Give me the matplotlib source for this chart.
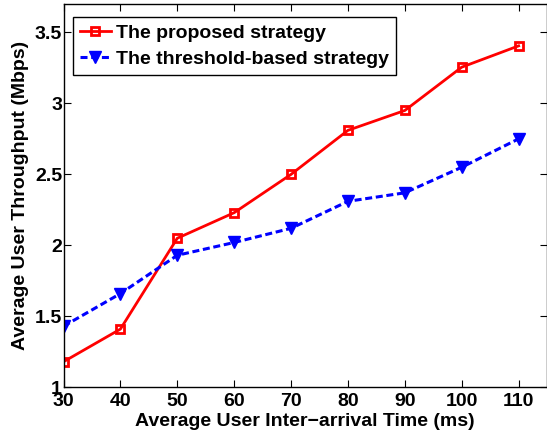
import matplotlib.pyplot as plt

plt.rcParams['font.family'] = ['Liberation Sans', 'DejaVu Sans']
plt.rcParams['font.weight'] = 'bold'

# Throughput vs. inter-arrival time for the two strategies
arrival_time = [30, 40, 50, 60, 70, 80, 90, 100, 110]
proposed = [1.18, 1.41, 2.05, 2.23, 2.50, 2.81, 2.95, 3.255, 3.405]
threshold = [1.43, 1.66, 1.93, 2.02, 2.12, 2.31, 2.37, 2.55, 2.75]

fig = plt.figure(figsize=(5.47, 4.34), dpi=100)
ax = fig.add_axes([0.1161, 0.1076, 0.884, 0.8832])

ax.plot(arrival_time, proposed, color='red', linestyle='-', linewidth=2,
        marker='s', markersize=6, markerfacecolor='none', markeredgewidth=2,
        label='The proposed strategy')
ax.plot(arrival_time, threshold, color='blue', linestyle='--', linewidth=2.2,
        dashes=(2.3, 1.2), marker='v', markersize=8.5, markerfacecolor='blue',
        label='The threshold-based strategy')

ax.set_xlim(30, 115)
ax.set_ylim(1, 3.7)
ax.set_xticks(arrival_time)
ax.set_yticks([1, 1.5, 2, 2.5, 3, 3.5])
ax.set_yticklabels(['1', '1.5', '2', '2.5', '3', '3.5'])
ax.tick_params(direction='in', top=True, right=True, labelsize=14, length=5)
ax.tick_params(axis='y', pad=1)
ax.tick_params(axis='x', pad=4)

ax.set_xlabel('Average User Inter\u2212arrival Time (ms)', fontsize=14, fontweight='bold', labelpad=2)
ax.set_ylabel('Average User Throughput (Mbps)', fontsize=14, fontweight='bold', labelpad=4)

leg = ax.legend(loc='upper left', bbox_to_anchor=(0.0196, 0.965), borderaxespad=0,
                fontsize=14, handlelength=1.6, handletextpad=0.25,
                fancybox=False, framealpha=1, borderpad=0.35, labelspacing=0.45)
leg.get_frame().set_edgecolor('black')
leg.get_frame().set_linewidth(1)

for s in ax.spines.values():
    s.set_linewidth(1)

fig.savefig('out.png', dpi=100)
